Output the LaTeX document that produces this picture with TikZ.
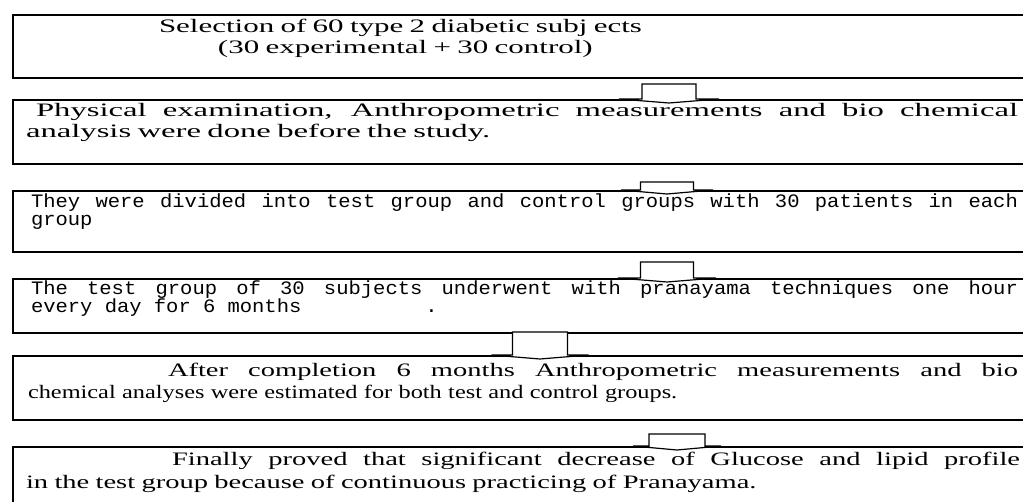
\documentclass[tikz,border=0pt]{standalone}
\usepackage{fontspec}
\setmainfont{Liberation Serif}
\newfontfamily\boxfontA[FakeStretch=1.63]{Liberation Serif}
\newfontfamily\boxfontB[FakeStretch=1.72]{Liberation Serif}
\newfontfamily\boxfontE[FakeStretch=1.28]{Liberation Serif}
\newfontfamily\boxfontF[FakeStretch=1.5]{Liberation Serif}
\newfontfamily\boxfontmono[FakeStretch=1.08]{Liberation Mono}
\newcommand{\wordspread}{\spaceskip=\fontdimen2\font plus 40pt minus 1pt\relax}
\newcommand{\monospread}{\spaceskip=6.1pt plus 20pt minus 1pt\relax}
\usepackage{tikz}
\usetikzlibrary{calc}
\usetikzlibrary{positioning}

\begin{document}
\begin{tikzpicture}[
     x=0.5pt, y=-0.5pt,  % one unit is one pixel of the scan, y going down
     mystepbox/.style={rectangle, draw, line width=1pt, anchor=north west, inner xsep=6.5pt, inner ysep=0pt, text width=515pt, align=left},
     myblockarrow/.style={draw, fill=white, line width=0.6pt, line join=miter}
 ]
 % hollow down arrow: top of shaft, box below, half shaft width, half head width
 \newcommand{\blockarrow}[4]{
     \draw[myblockarrow] ($(#1)+(-#3,0)$) -- ($(#1 |- #2.north)+(-#3,0)$) -- ($(#1 |- #2.north)+(-#4,0)$)
         -- ($(#1 |- #2.north)+(0,4)$) -- ($(#1 |- #2.north)+(#4,0)$) -- ($(#1 |- #2.north)+(#3,0)$) -- ($(#1)+(#3,0)$) -- cycle;
 }

 \useasboundingbox (0,0) rectangle (1023,502);
 \clip (0,0) rectangle (1023,502);

 \node[mystepbox, font=\boxfontA\fontsize{9.5pt}{10.5pt}\selectfont, text height=9pt, text depth=22.5pt] (select) at (12,14) {
     \hspace*{66.5pt}Selection of 60 type 2 diabetic subj ects\\
     \hspace*{96pt}(30 experimental + 30 control)};

 \node[mystepbox, below right=10pt and 0pt of select.south west, font=\boxfontB\fontsize{9.5pt}{10.5pt}\selectfont, text height=8.5pt, text depth=23.5pt] (exam) {
     \makebox[496pt][s]{\wordspread\hspace*{5pt}Physical examination, Anthropometric measurements and bio chemical}\\
     analysis were done before the study.};

 \node[mystepbox, below right=12.5pt and 0pt of exam.south west, font=\boxfontmono\fontsize{9.5pt}{9pt}\selectfont, text height=8.5pt, text depth=22pt] (divide) {\monospread
     \makebox[496pt][s]{\hspace*{2.5pt}They were divided into test group and control groups with 30 patients in each}\\
     \hspace*{2.5pt}group};

 \node[mystepbox, below right=12.5pt and 0pt of divide.south west, font=\boxfontmono\fontsize{9.5pt}{9pt}\selectfont, text height=8pt, text depth=19pt] (prana) {\monospread
     \makebox[496pt][s]{\hspace*{2.5pt}The test group of 30 subjects underwent with pranayama techniques one hour}\\
     \hspace*{2.5pt}every day for 6 months\hspace{62pt}.};

 \node[mystepbox, below right=10.5pt and 0pt of prana.south west, font=\boxfontE\fontsize{9.5pt}{11.5pt}\selectfont, text height=10pt, text depth=22pt] (after) {
     \makebox[496pt][s]{\boxfontF\wordspread\hspace*{71pt}After completion 6 months Anthropometric measurements and bio}\\
     \hspace*{1pt}chemical analyses were estimated for both test and control groups.};

 \node[mystepbox, below right=12.5pt and 0pt of after.south west, font=\boxfontF\fontsize{9.5pt}{11.5pt}\selectfont, text height=9pt, text depth=23pt] (final) {
     \makebox[497pt][s]{\wordspread\hspace*{73pt}Finally proved that significant decrease of Glucose and lipid profile}\\
     in the test group because of continuous practicing of Pranayama.};

 \coordinate (a1) at (669,84);
 \coordinate (a2) at (667,182);
 \coordinate (a3) at (667,262);
 \coordinate (a4) at (540,332);
 \coordinate (a5) at (677,434);

 \blockarrow{a1}{exam}{27}{50}
 \blockarrow{a2}{divide}{26.5}{46}
 \blockarrow{a3}{prana}{26.5}{49}
 \blockarrow{a4}{after}{27.5}{48.5}
 \blockarrow{a5}{final}{28}{44}
\end{tikzpicture}
\end{document}
